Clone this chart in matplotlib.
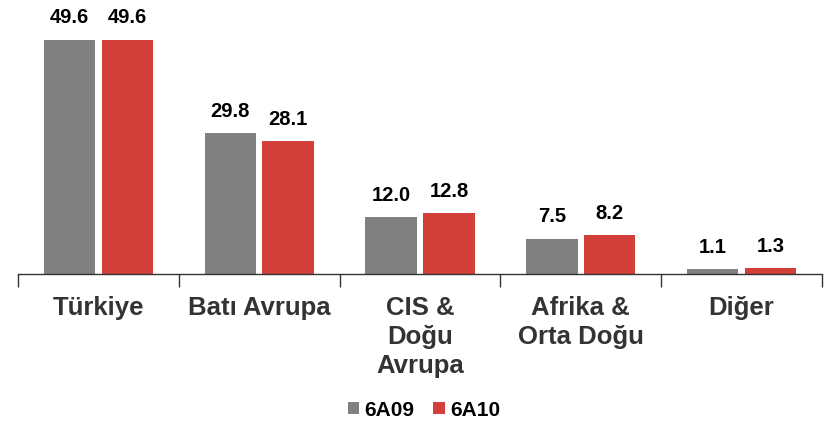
import matplotlib
matplotlib.use("Agg")
import matplotlib.pyplot as plt
import numpy as np

categories = ["Türkiye", "Batı Avrupa", "CIS &\nDoğu\nAvrupa", "Afrika &\nOrta Doğu", "Diğer"]
series_names = ["6A09", "6A10"]
values_6a09 = [49.6, 29.8, 12.0, 7.5, 1.1]
values_6a10 = [49.6, 28.1, 12.8, 8.2, 1.3]

plt.rcParams['font.family'] = ['Liberation Sans', 'DejaVu Sans']

fig = plt.figure(figsize=(8.35, 4.22), dpi=100)
ax = fig.add_axes([18/835, (422-274)/422, (822-18)/835, (274-14)/422])

x = np.arange(len(categories))
w = 0.32
off = 0.18
grey = "#808080"
red = "#D13F38"
b1 = ax.bar(x - off, values_6a09, w, color=grey, label=series_names[0])
b2 = ax.bar(x + off, values_6a10, w, color=red, label=series_names[1])

for bars, vals in ((b1, values_6a09), (b2, values_6a10)):
    for r, v in zip(bars, vals):
        ax.text(r.get_x() + r.get_width()/2, v + 2.6, f"{v:.1f}", ha="center", va="bottom",
                fontsize=14.5, fontweight="bold", color="black")

ax.set_xlim(-0.5, len(categories) - 0.5)
ax.set_ylim(0, 55)
ax.set_yticks([])
for s in ("top", "right", "left"):
    ax.spines[s].set_visible(False)
ax.spines["bottom"].set_color("#333333")
ax.spines["bottom"].set_linewidth(1.0)

ax.set_xticks(x)
ax.set_xticklabels(categories, fontsize=18.5, fontweight="bold", color="#333333", linespacing=1.25, va="top")
ax.tick_params(axis="x", which="major", length=0, pad=16)
ax.set_xticks(np.arange(-0.5, len(categories), 1.0), minor=True)
ax.tick_params(axis="x", which="minor", length=9, direction="out", color="#333333", width=1.0)

fig.legend(handles=[b1, b2], labels=series_names, loc="center", bbox_to_anchor=(424/835, 1 - 410/422),
           ncol=2, frameon=False, prop={"weight": "bold", "size": 15},
           handlelength=0.55, handleheight=0.55, handletextpad=0.25, columnspacing=0.9)

fig.savefig("out.png", dpi=100)
